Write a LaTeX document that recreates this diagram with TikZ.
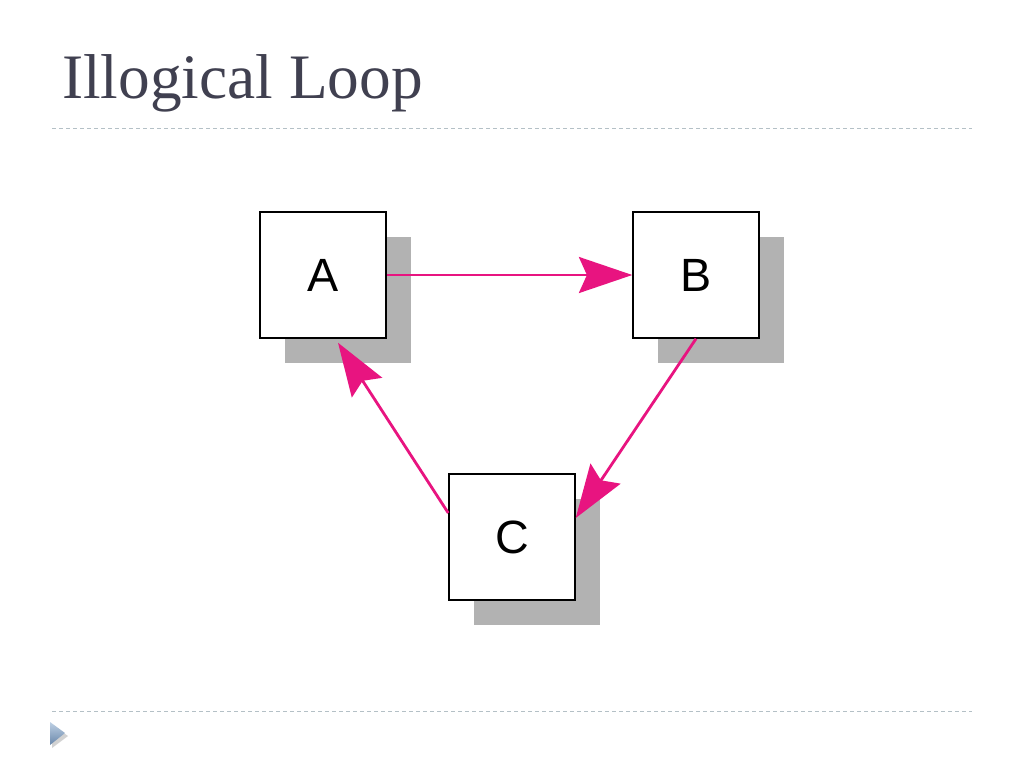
\documentclass[tikz,border=0pt]{standalone}
\usepackage{fontspec}
\setmainfont{Liberation Serif}
\newfontfamily\arial{Liberation Sans}
\usetikzlibrary{arrows.meta,shadows}
\definecolor{rose}{RGB}{232,20,128}
\definecolor{titre}{RGB}{64,64,80}
\definecolor{ombre}{RGB}{178,178,178}
\definecolor{tirets}{RGB}{180,192,198}
\newcommand{\lettre}[1]{{\arial\fontsize{35}{35}\selectfont #1}}

\begin{document}
\begin{tikzpicture}[x=0.75pt,y=-0.75pt,
  boite/.style={draw=black,line width=1.1pt,fill=white,minimum size=94.5pt,inner sep=0pt,
    drop shadow={shadow xshift=18.75pt,shadow yshift=-18.75pt,fill=ombre,opacity=1}},
  fleche/.style={color=rose,line width=2.1pt,-{Stealth[length=40pt,width=27pt,inset=6pt]}},
  ligne/.style={draw=tirets,line width=0.75pt,dash pattern=on 3pt off 2.25pt}]
\useasboundingbox (0,0) rectangle (1024,768);
\fill[white] (0,0) rectangle (1024,768);
% titre et lignes
\node[anchor=base west,text=titre,inner sep=0pt,font=\fontsize{47.5}{47.5}\selectfont] (titre) at (62,98) {Illogical Loop};
\draw[ligne] (52,128) -- (972,128);
\draw[ligne] (52,711) -- (972,711);
% puce
\fill[gray!35] (52,725) -- (68,736) -- (52,748) -- cycle;
\shade[top color={rgb,255:red,190;green,208;blue,228},bottom color={rgb,255:red,105;green,135;blue,170}]
  (50,722) -- (65,733) -- (50,745) -- cycle;
% les boites
\node[boite] (a) at (323,275) {\lettre{A}};
\node[boite] (b) at (696,275) {\lettre{B}};
\node[boite] (c) at (512,537) {\lettre{C}};
\draw[fleche] (a.east) -- (b.west);
\draw[fleche] (b.south) -- ([yshift=14.25pt]c.east);
\draw[fleche] ([yshift=18pt]c.west) -- ([xshift=11.25pt,yshift=-3pt]a.south);
% \draw[fleche] (c) -- (a);
\end{tikzpicture}
\end{document}
